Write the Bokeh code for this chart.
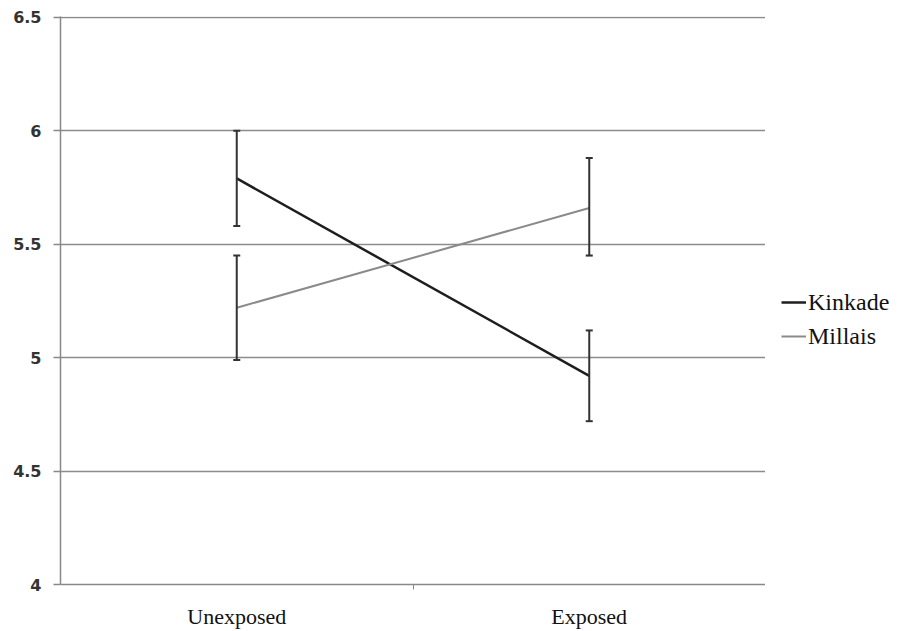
from bokeh.plotting import figure
from bokeh.layouts import row
from bokeh.models import (ColumnDataSource, Whisker, TeeHead, FixedTicker, Legend, LegendItem, Range1d)
from bokeh.embed import file_html
from bokeh.resources import INLINE

categories = ["Unexposed", "Exposed"]
kinkade_mean = [5.79, 4.92]
kinkade_upper = [6.00, 5.12]
kinkade_lower = [5.58, 4.72]
millais_mean = [5.22, 5.66]
millais_upper = [5.45, 5.88]
millais_lower = [4.99, 5.45]
y_ticks = [4, 4.5, 5, 5.5, 6, 6.5]
y_tick_labels = ["4", "4.5", "5", "5.5", "6", "6.5"]
series_names = ["Kinkade", "Millais"]
series_colors = ["#1e1e1e", "#8a8a8a"]
series_widths = [2.5, 2]

xpos = [i + 0.5 for i in range(len(categories))]

p = figure(width=765, height=631, output_backend="svg", toolbar_location=None,
           x_range=Range1d(0, len(categories)), y_range=Range1d(4, 6.504),
           min_border_left=60, min_border_right=0, min_border_top=16, min_border_bottom=43)
p.outline_line_color = None
p.background_fill_color = "white"

# axes
p.xaxis.ticker = FixedTicker(ticks=xpos, minor_ticks=[1.0])
p.xaxis.major_label_overrides = {x: c for x, c in zip(xpos, categories)}
p.xaxis.major_tick_out = 0
p.xaxis.major_tick_in = 0
p.xaxis.minor_tick_out = 5
p.xaxis.minor_tick_in = 0
p.xaxis.minor_tick_line_color = "#888888"
p.xaxis.axis_line_color = "#888888"
p.xaxis.axis_line_width = 1.5
p.xaxis.major_label_text_font = "Liberation Serif"
p.xaxis.major_label_text_font_size = "22px"
p.xaxis.major_label_text_color = "#111111"
p.xaxis.major_label_standoff = 14

p.yaxis.ticker = FixedTicker(ticks=y_ticks)
p.yaxis.major_label_overrides = {t: l for t, l in zip(y_ticks, y_tick_labels)}
p.yaxis.major_tick_out = 7
p.yaxis.major_tick_in = 0
p.yaxis.minor_tick_out = 0
p.yaxis.minor_tick_in = 0
p.yaxis.major_tick_line_color = "#888888"
p.yaxis.major_tick_line_width = 1.5
p.yaxis.axis_line_color = "#888888"
p.yaxis.axis_line_width = 1.5
p.yaxis.major_label_text_font = "DejaVu Sans"
p.yaxis.major_label_text_font_style = "bold"
p.yaxis.major_label_text_font_size = "16px"
p.yaxis.major_label_text_color = "#333333"
p.yaxis.major_label_standoff = 12

p.xgrid.grid_line_color = None
p.ygrid.grid_line_color = "#8c8c8c"
p.ygrid.grid_line_width = 1.5

src_k = ColumnDataSource(dict(x=xpos, y=kinkade_mean, up=kinkade_upper, lo=kinkade_lower))
src_m = ColumnDataSource(dict(x=xpos, y=millais_mean, up=millais_upper, lo=millais_lower))

for src in (src_k, src_m):
    w = Whisker(source=src, base="x", upper="up", lower="lo", dimension="height",
                line_color="#333333", line_width=2,
                upper_head=TeeHead(size=7, line_color="#333333", line_width=2),
                lower_head=TeeHead(size=7, line_color="#333333", line_width=2))
    w.level = "glyph"
    p.add_layout(w)

p.line("x", "y", source=src_k, line_color=series_colors[0], line_width=series_widths[0])
p.line("x", "y", source=src_m, line_color=series_colors[1], line_width=series_widths[1])

# legend panel (separate small figure so the legend can sit outside the plot frame);
# its proxy lines use the same sources but fall outside this panel's view range
lf = figure(width=134, height=631, output_backend="svg", toolbar_location=None,
            x_axis_type=None, y_axis_type=None, x_range=Range1d(0, 1), y_range=Range1d(0, 1),
            min_border=0)
lf.outline_line_color = None
lf.xgrid.visible = False
lf.ygrid.visible = False
items = []
for name, src, col, lw in zip(series_names, (src_k, src_m), series_colors, series_widths):
    r = lf.line(x="x", y="y", source=src, line_color=col, line_width=lw)
    items.append(LegendItem(label=name, renderers=[r]))

legend = Legend(items=items, location=(16, 232), orientation="vertical")
legend.border_line_color = None
legend.background_fill_alpha = 0
legend.label_text_font = "Liberation Serif"
legend.label_text_font_size = "24px"
legend.label_text_color = "#111111"
legend.glyph_width = 25
legend.glyph_height = 32
legend.label_height = 32
legend.label_standoff = 2
legend.spacing = 2
legend.padding = 0
legend.margin = 0
lf.add_layout(legend)

layout = row(p, lf, spacing=0)
open("out.html", "w").write(file_html(layout, INLINE))
